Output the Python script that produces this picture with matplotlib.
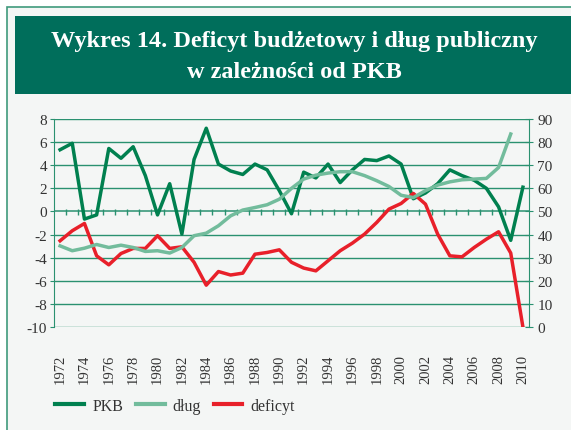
import numpy as np
import matplotlib
matplotlib.use("Agg")
import matplotlib.pyplot as plt
from matplotlib.patches import Rectangle
from matplotlib.lines import Line2D

plt.rcParams['font.family'] = ['Liberation Serif', 'DejaVu Serif']
plt.rcParams['axes.unicode_minus'] = False

# dane
lata = list(range(1972, 2011))
pkb = [5.34, 5.9, -0.66, -0.3, 5.45, 4.6, 5.6, 3.1, -0.3, 2.4,
       -1.96, 4.5, 7.2, 4.1, 3.5, 3.2, 4.1, 3.6, 1.8, -0.2,
       3.4, 2.9, 4.1, 2.5, 3.6, 4.5, 4.4, 4.8, 4.1, 1.1,
       1.6, 2.4, 3.6, 3.1, 2.7, 2.0, 0.4, -2.5, 2.1]
dlug = [35.1, 33, 34.1, 35.7, 34.4, 35.4, 34.4, 32.7, 33, 32,
        34.4, 39.5, 40.6, 43.8, 48.1, 50.6, 51.7, 52.9, 55.3, 60,
        64, 65.7, 66.6, 67.2, 67.2, 65.5, 63.3, 60.8, 57, 56,
        59, 61.4, 62.8, 63.7, 64, 64.3, 69, 83.5, np.nan]
deficyt = [-2.54, -1.67, -1.04, -3.84, -4.62, -3.64, -3.2, -3.2, -2.1, -3.2,
           -3.06, -4.4, -6.38, -5.2, -5.5, -5.34, -3.7, -3.55, -3.32, -4.4,
           -4.9, -5.14, -4.27, -3.4, -2.74, -1.96, -0.95, 0.2, 0.69, 1.56,
           0.63, -1.96, -3.84, -3.93, -3.12, -2.4, -1.76, -3.6, -10.0]

c_pkb = '#00804f'
c_dlug = '#72bc9c'
c_def = '#e8202a'
c_grid = '#2a9170'
c_txt = '#333333'
W, H = 571, 431

fig = plt.figure(figsize=(W / 100, H / 100), dpi=100, facecolor='white')

def px(x, y, w, h):
    return (x / W, 1 - (y + h) / H, w / W, h / H)

# ramka i pasek tytulu
x0, y0, w0, h0 = px(7, 8, 600, 460)
fig.patches.append(Rectangle((x0, y0), w0, h0, transform=fig.transFigure,
                             facecolor='#f4f6f5', edgecolor='#3f9a7c', lw=1.2, zorder=-3))
x0, y0, w0, h0 = px(15, 17, 600, 78)
fig.patches.append(Rectangle((x0, y0), w0, h0, transform=fig.transFigure,
                             facecolor='#006e5b', edgecolor='none', zorder=-2))
fig.text(294 / W, 1 - 41 / H, 'Wykres 14. Deficyt budżetowy i dług publiczny',
         color='white', fontsize=17.5, fontweight='bold', ha='center', va='center')
fig.text(294 / W, 1 - 73 / H, 'w zależności od PKB',
         color='white', fontsize=17.5, fontweight='bold', ha='center', va='center')

ax = fig.add_axes(px(54, 120, 475, 208))
ax.set_facecolor('none')
x = np.arange(len(lata))

for v in range(-10, 9, 2):
    ax.axhline(v, color=c_grid, lw=1.1 if v == 0 else 1.0, zorder=1)
ax.vlines(np.arange(0.5, len(lata) - 0.5, 1), -0.35, 0.2, color=c_grid, lw=1, zorder=1)

ax.plot(x, pkb, color=c_pkb, lw=2.5, zorder=3)
ax.plot(x, deficyt, color=c_def, lw=2.5, zorder=3)

ax.set_xlim(-0.5, len(lata) - 0.5)
ax.set_ylim(-10, 8)
ax.set_yticks(range(-10, 9, 2))
ax.set_xticks(x[::2])
ax.set_xticklabels([str(r) for r in lata[::2]], rotation=90)
ax.tick_params(axis='x', length=0, pad=19.5, labelsize=10.5, labelcolor=c_txt)
ax.tick_params(axis='y', direction='out', length=3, color=c_grid, labelsize=11,
               labelcolor=c_txt, pad=2)
for s in ['top', 'bottom', 'right']:
    ax.spines[s].set_visible(False)
ax.spines['left'].set_color(c_grid)

ax2 = ax.twinx()
ax2.plot(x, dlug, color=c_dlug, lw=2.5, zorder=3)
ax2.set_ylim(0, 90)
ax2.set_yticks(range(0, 91, 10))
ax2.tick_params(axis='y', direction='inout', length=6, color=c_grid, labelsize=11,
                labelcolor=c_txt, pad=3)
for s in ['top', 'bottom', 'left']:
    ax2.spines[s].set_visible(False)
ax2.spines['right'].set_color(c_grid)

uchwyty = [Line2D([], [], color=c_pkb, lw=3),
           Line2D([], [], color=c_dlug, lw=3),
           Line2D([], [], color=c_def, lw=3)]
fig.legend(uchwyty, ['PKB', 'dług', 'deficyt'], loc='center left',
           bbox_to_anchor=(41 / W, 1 - 407 / H), ncol=3, frameon=False,
           fontsize=11.5, handlelength=1.8, handletextpad=0.5, columnspacing=0.8,
           labelcolor=c_txt)

fig.savefig('out.png', dpi=100, facecolor='white')
